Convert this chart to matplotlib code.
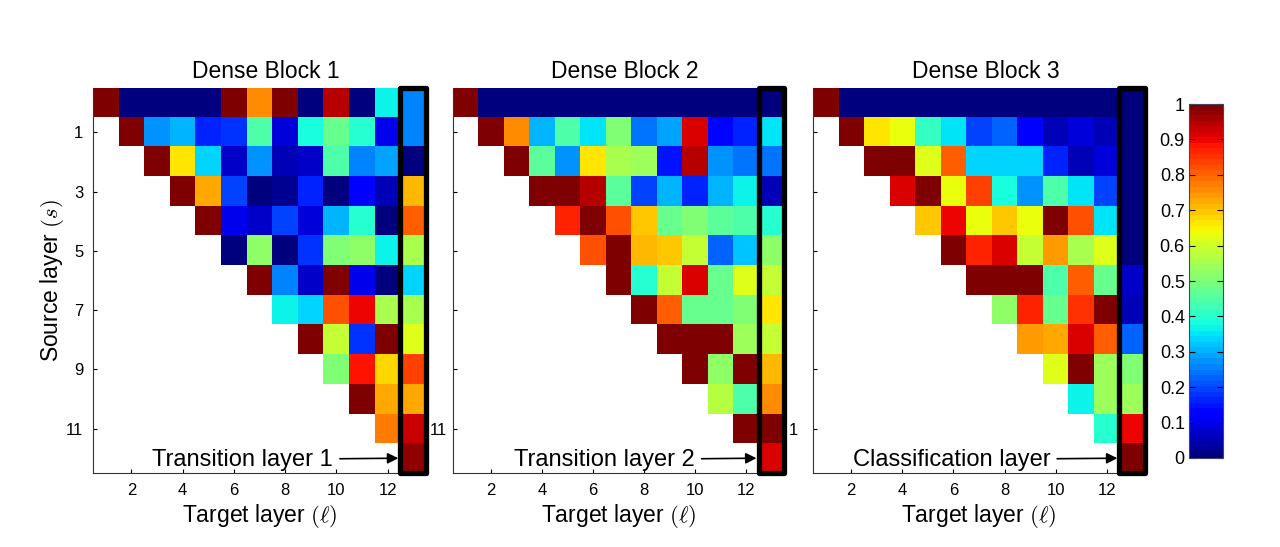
import numpy as np
import matplotlib
matplotlib.use("Agg")
import matplotlib.pyplot as plt
from matplotlib.patches import Rectangle

plt.rcParams["font.family"] = ["Liberation Sans", "DejaVu Sans"]
plt.rcParams["mathtext.fontset"] = "cm"

# weights per source layer s (row), listed for target layers s+1 .. 13
block1_rows = [
    [1.0, 0.0, 0.0, 0.0, 0.0, 1.0, 0.75, 1.0, 0.0, 0.95, 0.0, 0.37, 0.25],
    [1.0, 0.27, 0.30, 0.17, 0.18, 0.44, 0.08, 0.38, 0.48, 0.40, 0.10, 0.26],
    [1.0, 0.67, 0.34, 0.07, 0.27, 0.05, 0.07, 0.44, 0.26, 0.29, 0.01],
    [1.0, 0.72, 0.20, 0.0, 0.02, 0.17, 0.0, 0.12, 0.06, 0.71],
    [1.0, 0.10, 0.07, 0.20, 0.08, 0.31, 0.40, 0.01, 0.81],
    [0.01, 0.53, 0.0, 0.18, 0.50, 0.52, 0.36, 0.55],
    [1.0, 0.26, 0.07, 1.0, 0.10, 0.01, 0.33],
    [0.36, 0.33, 0.82, 0.90, 0.56, 0.56],
    [1.0, 0.59, 0.18, 1.0, 0.62],
    [0.51, 0.89, 0.68, 0.83],
    [1.0, 0.72, 0.72],
    [0.78, 0.93],
    [0.98],
]

block2_rows = [
    [1.0, 0.0, 0.0, 0.0, 0.0, 0.0, 0.0, 0.0, 0.0, 0.0, 0.0, 0.0, 0.0],
    [1.0, 0.75, 0.31, 0.44, 0.35, 0.50, 0.24, 0.29, 0.92, 0.14, 0.17, 0.35],
    [1.0, 0.46, 0.27, 0.66, 0.56, 0.54, 0.15, 0.95, 0.27, 0.24, 0.24],
    [1.0, 1.0, 0.95, 0.46, 0.19, 0.31, 0.17, 0.31, 0.36, 0.06],
    [0.86, 1.0, 0.82, 0.69, 0.47, 0.51, 0.46, 0.44, 0.40],
    [0.82, 1.0, 0.71, 0.69, 0.58, 0.22, 0.32, 0.52],
    [1.0, 0.40, 0.59, 0.92, 0.48, 0.61, 0.59],
    [1.0, 0.81, 0.47, 0.48, 0.51, 0.67],
    [1.0, 1.0, 1.0, 0.54, 0.58],
    [1.0, 0.52, 1.0, 0.71],
    [0.57, 0.45, 0.76],
    [1.0, 0.99],
    [0.91],
]

block3_rows = [
    [1.0, 0.0, 0.0, 0.0, 0.0, 0.0, 0.0, 0.0, 0.0, 0.0, 0.0, 0.0, 0.01],
    [1.0, 0.66, 0.64, 0.42, 0.35, 0.19, 0.22, 0.12, 0.05, 0.08, 0.06, 0.01],
    [1.0, 1.0, 0.62, 0.81, 0.34, 0.34, 0.33, 0.17, 0.05, 0.08, 0.01],
    [0.92, 1.0, 0.64, 0.83, 0.39, 0.27, 0.45, 0.35, 0.19, 0.01],
    [0.69, 0.90, 0.64, 0.69, 0.63, 1.0, 0.82, 0.35, 0.01],
    [1.0, 0.87, 0.91, 0.59, 0.74, 0.56, 0.62, 0.01],
    [1.0, 1.0, 1.0, 0.45, 0.81, 0.48, 0.07],
    [0.52, 0.86, 0.48, 0.85, 1.0, 0.06],
    [0.74, 0.72, 0.92, 0.81, 0.22],
    [0.61, 1.0, 0.54, 0.50],
    [0.37, 0.54, 0.54],
    [0.40, 0.90],
    [0.99],
]

titles = ["Dense Block 1", "Dense Block 2", "Dense Block 3"]
final_labels = ["Transition layer 1", "Transition layer 2", "Classification layer"]
x_ticks = [2, 4, 6, 8, 10, 12]
y_ticks = [1, 3, 5, 7, 9, 11]
cbar_ticks = [0, 0.1, 0.2, 0.3, 0.4, 0.5, 0.6, 0.7, 0.8, 0.9, 1]


def to_matrix(rows):
    n = len(rows)
    m = np.full((n, n), np.nan)
    for s, r in enumerate(rows):
        m[s, s:] = r
    return m


W, H = 1280, 547
fig = plt.figure(figsize=(W / 100, H / 100), dpi=100)
cmap = plt.get_cmap("jet", 64)

panel_px = [(93, 426), (453, 784), (813, 1145)]
top_px, bot_px = 88, 473
text_end = [9.87, 9.99, 9.79]

axes = []
for i, rows in enumerate([block1_rows, block2_rows, block3_rows]):
    x0, x1 = panel_px[i]
    ax = fig.add_axes([x0 / W, (H - bot_px) / H, (x1 - x0) / W, (bot_px - top_px) / H])
    data = np.ma.masked_invalid(to_matrix(rows))
    im = ax.imshow(data, cmap=cmap, vmin=0, vmax=1, aspect="auto",
                   interpolation="nearest", extent=(0.5, 13.5, 12.5, -0.5))
    ax.set_xlim(0.5, 13.5)
    ax.set_ylim(12.5, -0.5)
    ax.set_xticks(x_ticks)
    ax.set_yticks(y_ticks)
    ax.tick_params(direction="in", length=3, width=0.8, labelsize=12, pad=7)
    ax.spines["top"].set_visible(False)
    ax.spines["right"].set_visible(False)
    for sp in ("left", "bottom"):
        ax.spines[sp].set_color("#333333")
    ax.set_title(titles[i], fontsize=16.5, pad=7, x=0.52)
    ax.set_xlabel(r"Target layer $(\ell)$", fontsize=16.5, labelpad=3)
    if i == 0:
        ax.set_ylabel(r"Source layer $(s)$", fontsize=16.5)
        ax.yaxis.set_label_coords(-0.08, 0.5)
    elif i == 1:
        ax.set_yticklabels(["", "", "", "", "", "11"])
        ax.tick_params(axis="y", pad=4)
    else:
        ax.set_yticklabels(["", "", "", "", "", "1"])
        ax.tick_params(axis="y", pad=11)
    # box around the last target column
    ax.add_patch(Rectangle((12.5, -0.5), 1, 13, fill=False, edgecolor="black",
                           lw=3.8, joinstyle="round", clip_on=False, zorder=5))
    ax.annotate(final_labels[i], xy=(12.42, 12), xytext=(text_end[i], 12.05),
                ha="right", va="center", fontsize=17,
                arrowprops=dict(arrowstyle="-|>", color="black", lw=1.2,
                                mutation_scale=16, shrinkA=3, shrinkB=0))
    axes.append(ax)

cax = fig.add_axes([1189 / W, (H - 458) / H, 34 / W, 354 / H])
cb = fig.colorbar(im, cax=cax, ticks=cbar_ticks)
cb.ax.set_yticklabels(["0", "0.1", "0.2", "0.3", "0.4", "0.5", "0.6", "0.7", "0.8", "0.9", "1"])
cb.ax.yaxis.set_ticks_position("both")
cb.ax.yaxis.set_label_position("left")
cb.ax.tick_params(direction="in", length=4, width=0.8, labelsize=13,
                  labelleft=True, labelright=False, pad=3)
cb.outline.set_edgecolor("#444466")

fig.savefig("out.png", dpi=100, facecolor="white")
